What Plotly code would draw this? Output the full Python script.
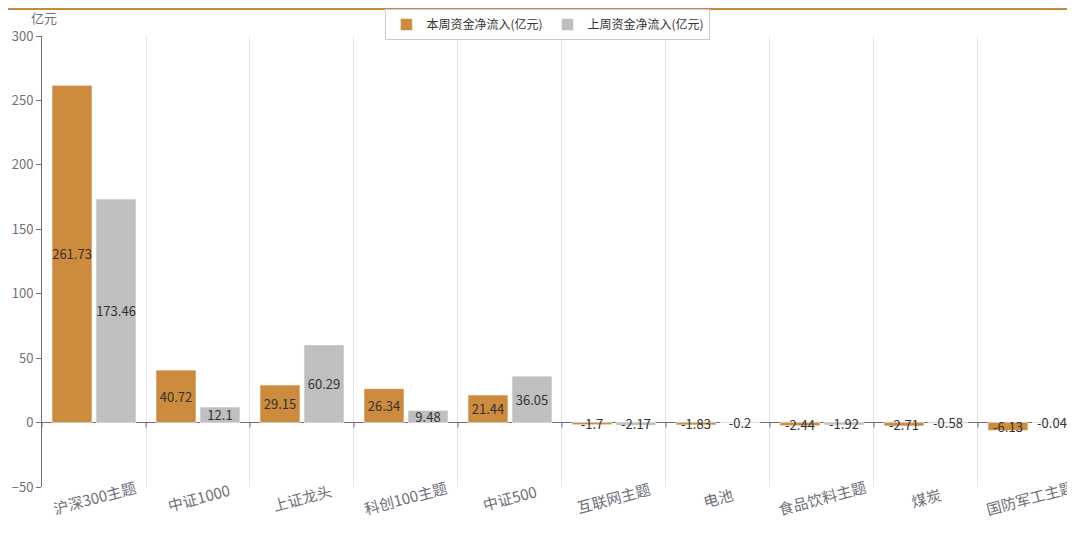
import plotly.graph_objects as go

categories = ["沪深300主题", "中证1000", "上证龙头", "科创100主题", "中证500",
              "互联网主题", "电池", "食品饮料主题", "煤炭", "国防军工主题"]
this_week = [261.73, 40.72, 29.15, 26.34, 21.44, -1.7, -1.83, -2.44, -2.71, -6.13]
last_week = [173.46, 12.1, 60.29, 9.48, 36.05, -2.17, -0.2, -1.92, -0.58, -0.04]
series_names = ["本周资金净流入(亿元)", "上周资金净流入(亿元)"]
y_ticks = [-50, 0, 50, 100, 150, 200, 250, 300]
y_min, y_max = -50, 300

FONT = "Noto Sans CJK SC, Microsoft YaHei, sans-serif"
colors = ["#CD8B3E", "#BFBFBF"]

fig = go.Figure()
for name, vals, col in zip(series_names, [this_week, last_week], colors):
    fig.add_trace(go.Bar(
        x=categories, y=vals, name=name,
        marker=dict(color=col, line=dict(color="rgba(255,255,255,0.6)", width=1)),
        text=[f"{v:g}" for v in vals],
        textposition="inside", insidetextanchor="middle", constraintext="none",
        textangle=0,
        textfont=dict(color="#333333", size=13, family=FONT),
        cliponaxis=False,
    ))

shapes = [dict(type="line", xref="paper", yref="paper", x0=-0.034, x1=1.0,
               y0=1.0599, y1=1.0599, line=dict(color="#C8893A", width=2))]
for i in range(len(categories)):
    shapes.append(dict(type="line", xref="x", yref="y", ysizemode="pixel", yanchor=0,
                       x0=i - 0.5, x1=i - 0.5, y0=0, y1=-5,
                       line=dict(color="#6E7079", width=1)))

annotations = [dict(text="亿元", xref="paper", yref="paper", x=-0.0126, y=1.042,
                    xanchor="left", yanchor="middle", showarrow=False,
                    font=dict(size=13, color="#6E7079", family=FONT))]
for c in categories:
    annotations.append(dict(text=c, xref="x", yref="y", x=c, y=y_min,
                            xanchor="center", yanchor="middle", yshift=-10,
                            textangle=-15, showarrow=False,
                            font=dict(size=15, color="#6E7079", family=FONT)))

fig.update_layout(
    width=1067, height=527,
    margin=dict(l=34, r=0, t=28, b=48, autoexpand=False),
    paper_bgcolor="white", plot_bgcolor="white",
    barmode="group", bargap=0.154, bargroupgap=0.09,
    font=dict(family=FONT, color="#6E7079"),
    legend=dict(orientation="h", xref="container", yref="container",
                x=0.506, xanchor="center", y=0.998, yanchor="top",
                bordercolor="#CCCCCC", borderwidth=1,
                font=dict(size=12, color="#333333"),
                itemwidth=30, tracegroupgap=0),
    shapes=shapes,
    annotations=annotations,
    xaxis=dict(range=[-0.5, 9.433], tickson="boundaries", showgrid=True,
               gridcolor="#E0E6F1", gridwidth=1, ticks="", showline=False,
               showticklabels=False),
    yaxis=dict(range=[y_min, y_max], tickvals=y_ticks, showgrid=False,
               showline=True, linecolor="#6E7079", linewidth=1,
               ticks="outside", ticklen=5, tickcolor="#6E7079",
               zeroline=True, zerolinecolor="#6E7079", zerolinewidth=1,
               tickfont=dict(size=13, color="#6E7079")),
)

fig.write_html("out.html")
